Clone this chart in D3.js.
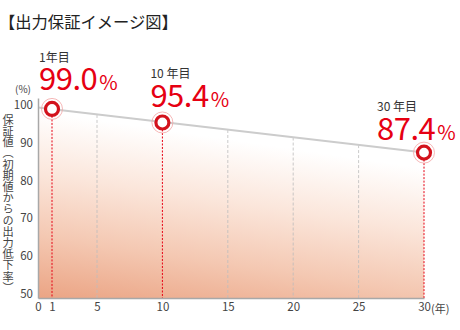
<!DOCTYPE html>
<html>
<head>
<meta charset="utf-8">
<script src="https://cdn.jsdelivr.net/npm/d3@7"></script>
<style>
  html, body { margin: 0; padding: 0; background: #fff; }
  svg { display: block; font-family: "Noto Sans CJK JP", "Noto Sans", sans-serif; }
</style>
</head>
<body>
<svg id="chart" width="460" height="330"></svg>
<script>
// Data
const years = [1, 10, 30];
const values = [99.0, 95.4, 87.4];
const yearLabels = ['1年目', '10 年目', '30 年目'];
const trendYears = [0, 30];
const trendValues = [99.4, 87.4];
const xTicks = [0, 1, 5, 10, 15, 20, 25, 30];
const gridYears = [5, 15, 20, 25];
const yTicks = [50, 60, 70, 80, 90, 100];

// Label placement relative to each point (layout only)
const labelDx = [-13, -12, -47];
const labelDy = [-19, -15, -13];
const yearLabelDy = [-28, -29, -29];

const red = '#e60012';
const svg = d3.select('#chart');

// Scales (the source drawing is not evenly spaced between 0 and 5)
const x = d3.scaleLinear()
  .domain([0, 1, 5, 30])
  .range([38, 52, 97, 424]);

const y = d3.scaleLinear()
  .domain([48.8, 101.9])
  .range([298, 98]);

// Gradient fill under the trend line
const defs = svg.append('defs');
const grad = defs.append('linearGradient')
  .attr('id', 'fillGrad')
  .attr('x1', 0).attr('y1', 1)
  .attr('x2', 0.3).attr('y2', 0);
grad.append('stop').attr('offset', 0).attr('stop-color', '#eba484');
grad.append('stop').attr('offset', 0.3).attr('stop-color', '#f4c8b2');
grad.append('stop').attr('offset', 0.6).attr('stop-color', '#fbe6db');
grad.append('stop').attr('offset', 0.9).attr('stop-color', '#ffffff');

const trend = trendYears.map((t, i) => ({ t, v: trendValues[i] }));
const trendAt = t => d3.scaleLinear().domain(trendYears).range(trendValues)(t);

svg.append('path')
  .datum(trend)
  .attr('fill', 'url(#fillGrad)')
  .attr('d', d3.area()
    .x(d => x(d.t))
    .y0(y.range()[0])
    .y1(d => y(d.v)));

// Gray dashed grid lines from trend line down
svg.append('g')
  .selectAll('line')
  .data(gridYears)
  .enter()
  .append('line')
  .attr('x1', d => x(d)).attr('x2', d => x(d))
  .attr('y1', d => y(trendAt(d)))
  .attr('y2', y.range()[0])
  .attr('stroke', '#bdbdbd')
  .attr('stroke-width', 0.8)
  .attr('stroke-dasharray', '3,2');

// Red dashed drop lines
svg.append('g')
  .selectAll('line')
  .data(years)
  .enter()
  .append('line')
  .attr('x1', d => x(d)).attr('x2', d => x(d))
  .attr('y1', (d, i) => y(values[i]))
  .attr('y2', y.range()[0])
  .attr('stroke', red)
  .attr('stroke-width', 1)
  .attr('stroke-dasharray', '2,1.5');

// Trend line
svg.append('path')
  .datum(trend)
  .attr('fill', 'none')
  .attr('stroke', '#cccccc')
  .attr('stroke-width', 2)
  .attr('d', d3.line().x(d => x(d.t)).y(d => y(d.v)));

// Axes
const yAxis = svg.append('g')
  .attr('transform', `translate(${x(0)},0)`)
  .call(d3.axisLeft(y).tickValues(yTicks).tickSize(0).tickPadding(5));
yAxis.select('.domain').attr('stroke', '#a8a8a8').attr('stroke-width', 1.5);
yAxis.selectAll('text')
  .attr('fill', '#444')
  .style('font-size', '11.5px')
  .style('font-family', '"Noto Sans CJK JP", sans-serif');

const xAxis = svg.append('g')
  .attr('transform', `translate(0,${y.range()[0]})`)
  .call(d3.axisBottom(x).tickValues(xTicks).tickSize(0).tickPadding(5).tickFormat(d3.format('d')));
xAxis.select('.domain').attr('stroke', '#a8a8a8').attr('stroke-width', 1.5);
xAxis.selectAll('text')
  .attr('fill', '#444')
  .style('font-size', '11.5px')
  .style('font-family', '"Noto Sans CJK JP", sans-serif');

// Unit labels
svg.append('text')
  .attr('x', 431).attr('y', 313)
  .attr('fill', '#444')
  .style('font-size', '11px')
  .text('(年)');

svg.append('text')
  .attr('x', 15).attr('y', 93)
  .attr('fill', '#444')
  .style('font-size', '10px')
  .text('(%)');

// Vertical y-axis title
svg.append('text')
  .attr('x', 8).attr('y', 114)
  .attr('fill', '#444')
  .style('font-size', '11.2px')
  .style('writing-mode', 'vertical-rl')
  .text('保証値（初期値からの出力低下率）');

// Title
svg.append('text')
  .attr('x', -1).attr('y', 28)
  .attr('fill', '#222')
  .style('font-size', '16.3px')
  .text('【出力保証イメージ図】');

// Point markers
const pts = svg.append('g')
  .selectAll('g')
  .data(years)
  .enter()
  .append('g')
  .attr('transform', (d, i) => `translate(${x(d)},${y(values[i])})`);

pts.append('circle')
  .attr('r', 10.5)
  .attr('fill', 'none')
  .attr('stroke', '#f3a5a5')
  .attr('stroke-width', 0.8);
pts.append('circle')
  .attr('r', 6.5)
  .attr('fill', '#fff')
  .attr('stroke', '#d3121c')
  .attr('stroke-width', 3.2);

// Annotations
const ann = svg.append('g')
  .selectAll('g')
  .data(years)
  .enter()
  .append('g')
  .attr('transform', (d, i) => `translate(${x(d) + labelDx[i]},${y(values[i]) + labelDy[i]})`);

ann.append('text')
  .attr('y', (d, i) => yearLabelDy[i])
  .attr('fill', '#333')
  .style('font-size', '12px')
  .text((d, i) => yearLabels[i]);

const big = ann.append('text')
  .attr('fill', red)
  .style('font-weight', 400);
big.append('tspan')
  .style('font-size', '31px')
  .style('letter-spacing', '-0.5px')
  .text((d, i) => d3.format('.1f')(values[i]));
big.append('tspan')
  .attr('dx', 2)
  .style('font-size', '20px')
  .text('%');
</script>
</body>
</html>
